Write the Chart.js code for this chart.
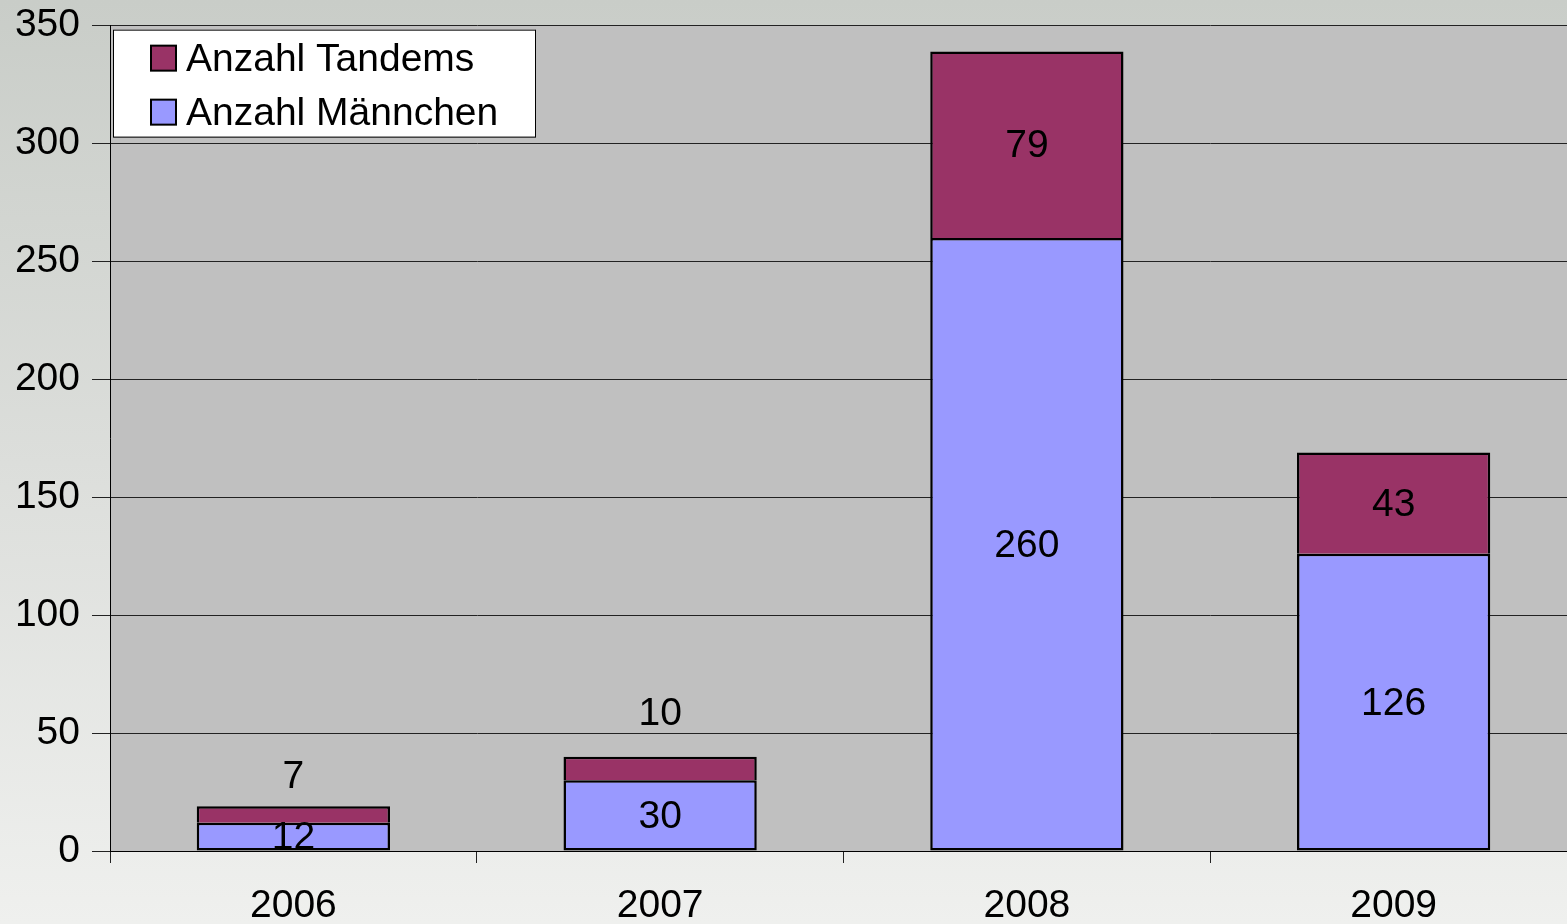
<!DOCTYPE html>
<html>
<head>
<meta charset="utf-8">
<script src="https://cdn.jsdelivr.net/npm/chart.js@4"></script>
<style>
    html, body { margin: 0; padding: 0; overflow: hidden; }
    #wrap { width: 1577px; height: 924px; }
</style>
</head>
<body>
<div id="wrap"><canvas id="tandemChart"></canvas></div>
<script>
const years = ['2006', '2007', '2008', '2009'];
const maennchen = [12, 30, 260, 126];
const tandems = [7, 10, 79, 43];
const yMax = 350;
const yStep = 50;

const FONT = "'Liberation Sans', Arial, sans-serif";

// page background + grey plot area
const backdrop = {
    id: 'backdrop',
    beforeDraw(chart) {
        const { ctx, width, height, chartArea } = chart;
        ctx.save();
        const g = ctx.createLinearGradient(0, 0, 0, height);
        g.addColorStop(0, '#c9cdc8');
        g.addColorStop(0.5, '#dcdedb');
        g.addColorStop(1, '#eff0ee');
        ctx.fillStyle = g;
        ctx.fillRect(0, 0, width, height);
        ctx.fillStyle = '#c0c0c0';
        ctx.fillRect(chartArea.left, chartArea.top, chartArea.right - chartArea.left, chartArea.bottom - chartArea.top);
        ctx.restore();
    }
};

// value labels in the middle of each segment (small ones go above the bar)
const valueLabels = {
    id: 'valueLabels',
    afterDatasetsDraw(chart, args, opts) {
        const { ctx } = chart;
        ctx.save();
        ctx.font = '39px ' + FONT;
        ctx.fillStyle = '#000';
        ctx.textAlign = 'center';
        ctx.textBaseline = 'middle';
        chart.data.datasets.forEach((ds, di) => {
            const meta = chart.getDatasetMeta(di);
            meta.data.forEach((bar, i) => {
                let y = (bar.y + bar.base) / 2;
                const lift = opts.above[di] && opts.above[di][i];
                if (lift) y = bar.y - lift;
                ctx.fillText(String(ds.data[i]), bar.x, y + 2);
            });
        });
        ctx.restore();
    }
};

// boxed legend drawn inside the plot area, top-left
const boxLegend = {
    id: 'boxLegend',
    afterDraw(chart) {
        const { ctx, chartArea } = chart;
        const x = chartArea.left + 3, y = chartArea.top + 4;
        const w = 422, h = 107;
        ctx.save();
        ctx.fillStyle = '#fff';
        ctx.fillRect(x, y, w, h);
        ctx.strokeStyle = '#000';
        ctx.lineWidth = 1;
        ctx.strokeRect(x + 0.5, y + 0.5, w, h);
        ctx.font = '39px ' + FONT;
        ctx.textBaseline = 'middle';
        const order = [1, 0];
        order.forEach((di, row) => {
            const ds = chart.data.datasets[di];
            const cy = y + 29 + row * 54;
            ctx.fillStyle = ds.backgroundColor;
            ctx.fillRect(x + 38, cy - 13, 25, 25);
            ctx.lineWidth = 2;
            ctx.strokeRect(x + 38, cy - 13, 25, 25);
            ctx.fillStyle = '#000';
            ctx.fillText(ds.label, x + 73, cy + 2);
        });
        ctx.restore();
    }
};

const ctx = document.getElementById('tandemChart').getContext('2d');

new Chart(ctx, {
    type: 'bar',
    data: {
        labels: years,
        datasets: [
            {
                label: 'Anzahl Männchen',
                data: maennchen,
                backgroundColor: '#9999ff',
                borderColor: '#000',
                borderWidth: 2.5,
                borderSkipped: false,
                categoryPercentage: 1,
                barPercentage: 0.527
            },
            {
                label: 'Anzahl Tandems',
                data: tandems,
                backgroundColor: '#993366',
                borderColor: '#000',
                borderWidth: 2.5,
                borderSkipped: 'bottom',
                categoryPercentage: 1,
                barPercentage: 0.527
            }
        ]
    },
    options: {
        responsive: true,
        maintainAspectRatio: false,
        animation: false,
        layout: { padding: { top: 20, right: 0, bottom: 0, left: 0 } },
        plugins: {
            legend: { display: false },
            tooltip: { enabled: false },
            valueLabels: { above: { 1: { 0: 31, 1: 44 } } }
        },
        scales: {
            x: {
                stacked: true,
                afterFit(scale) { scale.height = 73; },
                grid: {
                    offset: true,
                    drawOnChartArea: false,
                    drawTicks: true,
                    tickLength: 12,
                    color: '#222',
                    lineWidth: 1
                },
                border: { color: '#000', width: 1 },
                ticks: {
                    color: '#000',
                    padding: 24,
                    font: { family: FONT, size: 39, lineHeight: 1 }
                }
            },
            y: {
                stacked: true,
                min: 0,
                max: yMax,
                afterFit(scale) { scale.width = 110; },
                grid: {
                    color: '#222',
                    lineWidth: 1,
                    drawTicks: true,
                    tickLength: 18
                },
                border: { color: '#000', width: 1 },
                ticks: {
                    stepSize: yStep,
                    color: '#000',
                    padding: 12,
                    font: { family: FONT, size: 39, lineHeight: 0.7 }
                }
            }
        }
    },
    plugins: [backdrop, valueLabels, boxLegend]
});
</script>
</body>
</html>
